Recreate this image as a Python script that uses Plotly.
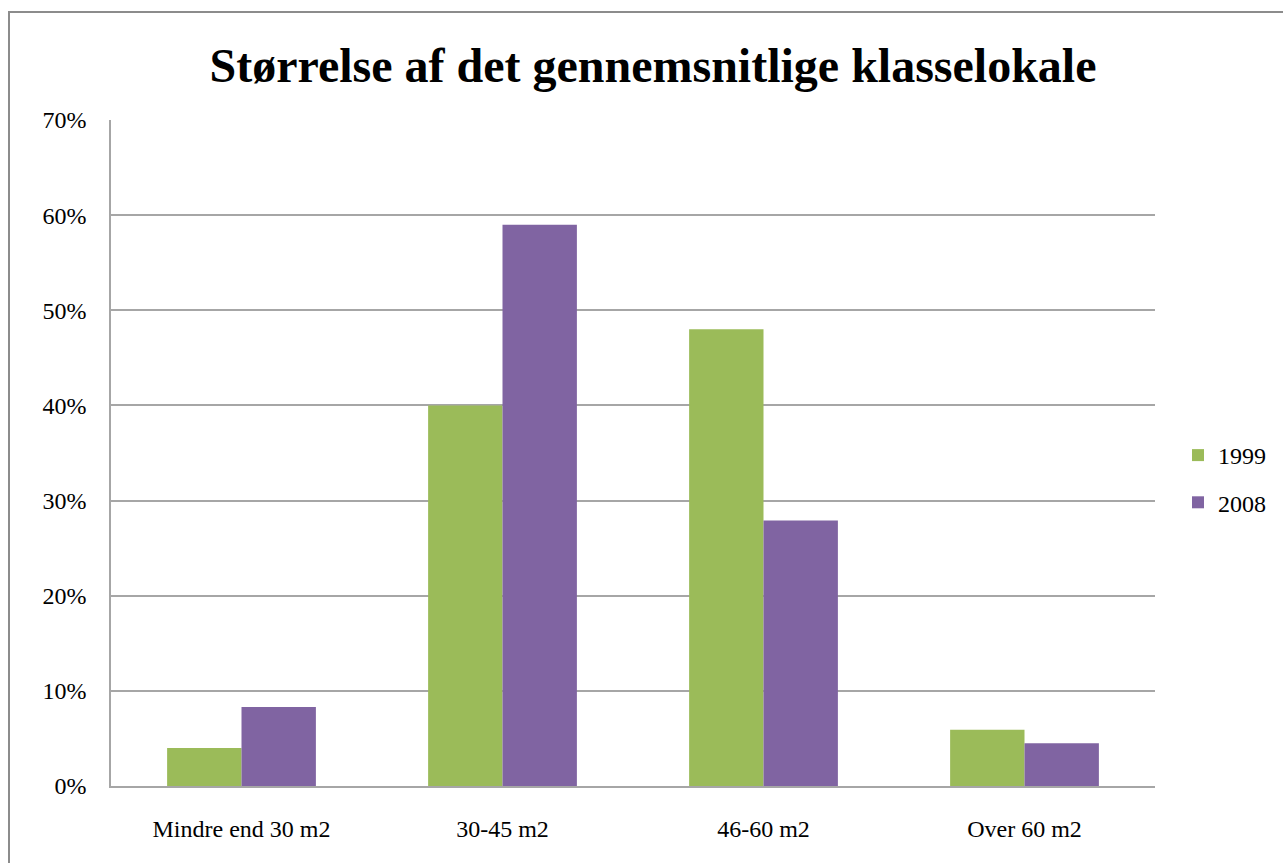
import plotly.graph_objects as go

categories = ["Mindre end 30 m2", "30-45 m2", "46-60 m2", "Over 60 m2"]
series_names = ["1999", "2008"]
values_1999 = [0.04, 0.40, 0.48, 0.059]
values_2008 = [0.083, 0.59, 0.279, 0.045]
y_ticks = [0, 0.1, 0.2, 0.3, 0.4, 0.5, 0.6, 0.7]
colors = ["#9BBB59", "#8064A2"]

W, H = 1283, 863
L, R, T, B = 111, 1155, 120, 786

fig = go.Figure()
for i, (name, vals) in enumerate(zip(series_names, [values_1999, values_2008])):
    fig.add_trace(go.Bar(
        x=categories, y=vals, name=name,
        marker=dict(color=colors[i], line=dict(width=0)),
        legendgroup=name,
    ))

font_family = "Liberation Serif, Times New Roman, serif"
pw, ph = R - L, B - T

fig.update_layout(
    width=W, height=H,
    margin=dict(l=L, r=W - R, t=T, b=H - B, autoexpand=False),
    paper_bgcolor="white", plot_bgcolor="white",
    font=dict(family=font_family, size=24, color="black"),
    title=dict(text="<b>Størrelse af det gennemsnitlige klasselokale</b>",
               font=dict(family=font_family, size=48, color="black"),
               x=(653) / W, xanchor="center", y=1 - 65 / H, yanchor="middle"),
    barmode="group", bargap=0.43, bargroupgap=0,
    showlegend=True,
    legend=dict(x=(1178 - L) / pw, xanchor="left", y=(B - 479) / ph, yanchor="middle",
                font=dict(family=font_family, size=24, color="black"),
                traceorder="grouped", tracegroupgap=13, bgcolor="rgba(0,0,0,0)",
                itemwidth=30),
    xaxis=dict(showgrid=False, showline=True, linecolor="#A6A6A6", linewidth=2,
               ticks="", ticklabelstandoff=20, tickfont=dict(size=24)),
    yaxis=dict(range=[0, 0.7], tickvals=y_ticks, tickformat=".0%",
               showgrid=True, gridcolor="#A6A6A6", gridwidth=1.5,
               showline=True, linecolor="#A6A6A6", linewidth=1.5,
               ticks="", ticklabelstandoff=18, zeroline=False, tickfont=dict(size=24)),
    shapes=[dict(type="rect", xref="paper", yref="paper",
                 x0=(9 - L) / pw, x1=(1295 - L) / pw,
                 y0=(B - 875) / ph, y1=(B - 12) / ph,
                 line=dict(color="#8C8C8C", width=2), fillcolor="rgba(0,0,0,0)", layer="below")],
)

fig.write_html("out.html", config={"displayModeBar": False},
               post_script="document.body.style.margin='0px';")
